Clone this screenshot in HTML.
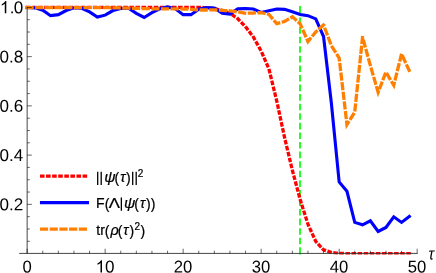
<!DOCTYPE html>
<html><head><meta charset="utf-8"><style>
html,body{margin:0;padding:0;background:#fff;}
svg{display:block;will-change:transform;}
text{font-family:"Liberation Sans",sans-serif;fill:#000;}
.tl text{font-size:17.1px;text-rendering:geometricPrecision;}
.lg text{font-size:14px;stroke:#000;stroke-width:0.22px;}
</style></head><body>
<svg width="436" height="273" viewBox="0 0 436 273">
<defs><clipPath id="cp"><rect x="0" y="0" width="436" height="254.6"/></clipPath></defs>
<rect width="436" height="273" fill="#fff"/>
<g stroke="#00ff00" stroke-width="1.7" fill="none"><line x1="300" y1="6.0" x2="300" y2="254.6" stroke-dasharray="6.6 2.973" stroke-dashoffset="7.61"/><line x1="300" y1="6.0" x2="300" y2="8.2"/><line x1="300" y1="253.6" x2="300" y2="254.6"/></g>
<g fill="none" stroke-width="3.1" stroke-linejoin="miter" stroke-linecap="square">
<path clip-path="url(#cp)" d="M27.55,7.30 L34.95,7.30 L42.75,7.30 L50.55,7.30 L58.35,7.30 L66.15,7.30 L73.95,7.30 L81.75,7.30 L89.55,7.30 L97.35,7.30 L105.15,7.30 L112.95,7.30 L120.75,7.30 L128.55,7.30 L136.35,7.30 L144.15,7.30 L151.95,7.30 L159.75,7.30 L167.55,7.30 L175.35,7.30 L183.15,7.30 L190.95,7.30 L198.75,7.30 L206.55,7.70 L214.35,8.60 L222.15,10.30 L229.95,13.30 L237.75,18.70 L245.55,26.80 L253.35,37.00 L261.15,51.00 L268.95,69.00 L276.75,101.00 L284.55,137.40 L292.35,170.20 L300.15,199.50 L307.95,224.20 L315.75,241.40 L323.55,249.80 L331.35,252.50 L339.15,253.40 L346.95,253.60 L354.75,253.60 L362.55,253.60 L370.35,253.60 L378.15,253.60 L385.95,253.60 L393.75,253.60 L401.55,253.60 L409.35,253.60" stroke="#ff0000" stroke-width="3.3" stroke-dasharray="1.3 4.786"/>
<path d="M27.15,7.45 L34.95,7.85 L42.75,10.15 L50.55,15.65 L58.35,14.65 L66.15,10.55 L73.95,7.85 L81.75,8.25 L89.55,11.95 L97.35,17.05 L105.15,15.15 L112.95,10.55 L120.75,8.45 L128.55,8.25 L136.35,13.35 L144.15,17.45 L151.95,12.65 L159.75,8.75 L167.55,6.95 L175.35,8.85 L183.15,14.65 L190.95,14.65 L198.75,9.15 L206.55,7.55 L214.35,8.05 L222.15,13.35 L229.95,14.05 L237.75,8.85 L245.55,8.55 L253.35,9.05 L261.15,12.45 L268.95,10.65 L276.75,9.05 L284.55,9.35 L292.35,11.75 L300.15,14.55 L307.95,15.65 L315.75,18.85 L323.55,36.50 L331.35,103.00 L339.15,181.90 L346.95,191.30 L354.75,222.40 L362.55,224.80 L370.35,220.80 L378.15,231.50 L385.95,227.50 L393.75,216.80 L401.55,222.40 L409.35,216.40" stroke="#0000ff"/>
<path d="M27.15,7.60 L34.95,7.60 L42.75,7.60 L50.55,7.60 L58.35,7.60 L66.15,7.60 L73.95,7.60 L81.75,7.60 L89.55,7.60 L97.35,7.60 L105.15,7.60 L112.95,7.80 L120.75,8.00 L128.55,8.20 L136.35,8.40 L144.15,8.60 L151.95,8.80 L159.75,8.90 L167.55,8.90 L175.35,8.80 L183.15,9.00 L190.95,9.30 L198.75,10.00 L206.55,10.00 L214.35,9.90 L222.15,10.40 L229.95,10.90 L237.75,11.90 L245.55,13.20 L253.35,13.00 L261.15,12.60 L268.95,14.40 L276.75,23.70 L284.55,21.40 L292.35,16.80 L300.15,23.70 L307.95,41.50 L315.75,32.00 L323.55,24.90 L331.35,45.60 L339.15,58.00 L346.95,124.60 L354.75,112.00 L362.55,37.10 L370.35,65.50 L378.15,92.30 L385.95,72.10 L393.75,85.30 L401.55,54.00 L409.35,70.80" stroke="#ff8000" stroke-width="3.3" stroke-dasharray="4.9 4.775"/>
<line x1="41.6" y1="176.2" x2="87.45" y2="176.2" stroke="#ff0000" stroke-width="3.3" stroke-dasharray="1.3 4.786"/>
<line x1="41.5" y1="202.6" x2="87.45" y2="202.6" stroke="#0000ff"/>
<line x1="41.6" y1="229.1" x2="87.45" y2="229.1" stroke="#ff8000" stroke-width="3.3" stroke-dasharray="4.85 4.87"/>
</g>
<g stroke="#333" stroke-width="0.9" fill="none">
<line x1="19.2" y1="253.42" x2="417.7" y2="253.42"/>
<line x1="27.15" y1="6.9" x2="27.15" y2="253.42"/>
</g>
<g stroke="#000" stroke-width="0.6" fill="none"><line x1="27.15" y1="253.42" x2="27.15" y2="248.72"/><line x1="42.75" y1="253.42" x2="42.75" y2="250.72"/><line x1="58.35" y1="253.42" x2="58.35" y2="250.72"/><line x1="73.95" y1="253.42" x2="73.95" y2="250.72"/><line x1="89.55" y1="253.42" x2="89.55" y2="250.72"/><line x1="105.15" y1="253.42" x2="105.15" y2="248.72"/><line x1="120.75" y1="253.42" x2="120.75" y2="250.72"/><line x1="136.35" y1="253.42" x2="136.35" y2="250.72"/><line x1="151.95" y1="253.42" x2="151.95" y2="250.72"/><line x1="167.55" y1="253.42" x2="167.55" y2="250.72"/><line x1="183.15" y1="253.42" x2="183.15" y2="248.72"/><line x1="198.75" y1="253.42" x2="198.75" y2="250.72"/><line x1="214.35" y1="253.42" x2="214.35" y2="250.72"/><line x1="229.95" y1="253.42" x2="229.95" y2="250.72"/><line x1="245.55" y1="253.42" x2="245.55" y2="250.72"/><line x1="261.15" y1="253.42" x2="261.15" y2="248.72"/><line x1="276.75" y1="253.42" x2="276.75" y2="250.72"/><line x1="292.35" y1="253.42" x2="292.35" y2="250.72"/><line x1="307.95" y1="253.42" x2="307.95" y2="250.72"/><line x1="323.55" y1="253.42" x2="323.55" y2="250.72"/><line x1="339.15" y1="253.42" x2="339.15" y2="248.72"/><line x1="354.75" y1="253.42" x2="354.75" y2="250.72"/><line x1="370.35" y1="253.42" x2="370.35" y2="250.72"/><line x1="385.95" y1="253.42" x2="385.95" y2="250.72"/><line x1="401.55" y1="253.42" x2="401.55" y2="250.72"/><line x1="417.15" y1="253.42" x2="417.15" y2="248.72"/><line x1="27.15" y1="241.29" x2="29.849999999999998" y2="241.29"/><line x1="27.15" y1="228.98" x2="29.849999999999998" y2="228.98"/><line x1="27.15" y1="216.67" x2="29.849999999999998" y2="216.67"/><line x1="27.15" y1="204.36" x2="31.849999999999998" y2="204.36"/><line x1="27.15" y1="192.05" x2="29.849999999999998" y2="192.05"/><line x1="27.15" y1="179.74" x2="29.849999999999998" y2="179.74"/><line x1="27.15" y1="167.43" x2="29.849999999999998" y2="167.43"/><line x1="27.15" y1="155.12" x2="31.849999999999998" y2="155.12"/><line x1="27.15" y1="142.81" x2="29.849999999999998" y2="142.81"/><line x1="27.15" y1="130.50" x2="29.849999999999998" y2="130.50"/><line x1="27.15" y1="118.19" x2="29.849999999999998" y2="118.19"/><line x1="27.15" y1="105.88" x2="31.849999999999998" y2="105.88"/><line x1="27.15" y1="93.57" x2="29.849999999999998" y2="93.57"/><line x1="27.15" y1="81.26" x2="29.849999999999998" y2="81.26"/><line x1="27.15" y1="68.95" x2="29.849999999999998" y2="68.95"/><line x1="27.15" y1="56.64" x2="31.849999999999998" y2="56.64"/><line x1="27.15" y1="44.33" x2="29.849999999999998" y2="44.33"/><line x1="27.15" y1="32.02" x2="29.849999999999998" y2="32.02"/><line x1="27.15" y1="19.71" x2="29.849999999999998" y2="19.71"/><line x1="27.15" y1="7.40" x2="31.849999999999998" y2="7.40"/></g>
<g class="tl"><text transform="translate(27.05,272.55) rotate(0.05) scale(0.975,1)" text-anchor="middle">0</text><path d="M1085 0H905V1147Q840 1085 734.5 1023Q629 961 545 930V1104Q696 1175 809 1276Q922 1377 969 1472H1085Z" transform="translate(92.94,272.55) scale(0.008350,-0.008350)" fill="#000"/><text transform="translate(105.05,272.55) rotate(0.05)">0</text><text transform="translate(183.05,272.55) rotate(0.05) scale(0.975,1)" text-anchor="middle">20</text><text transform="translate(261.05,272.55) rotate(0.05) scale(0.975,1)" text-anchor="middle">30</text><text transform="translate(339.05,272.55) rotate(0.05) scale(0.975,1)" text-anchor="middle">40</text><text transform="translate(417.05,272.55) rotate(0.05) scale(0.975,1)" text-anchor="middle">50</text><text transform="translate(23.2,210.31) rotate(0.05)" text-anchor="end">0.2</text><text transform="translate(23.2,161.07) rotate(0.05)" text-anchor="end">0.4</text><text transform="translate(23.2,111.83) rotate(0.05)" text-anchor="end">0.6</text><text transform="translate(23.2,62.59) rotate(0.05)" text-anchor="end">0.8</text><path d="M1085 0H905V1147Q840 1085 734.5 1023Q629 961 545 930V1104Q696 1175 809 1276Q922 1377 969 1472H1085Z" transform="translate(-2.77,13.35) scale(0.008350,-0.008350)" fill="#000"/><text transform="translate(9.64,13.35) rotate(0.05)">.</text><text transform="translate(13.69,13.35) rotate(0.05)">0</text><text transform="translate(428.4,259.5) rotate(0.05) scale(0.88,1)" font-style="italic">τ</text></g>
<g class="lg"><line x1="97.7" x2="97.7" y1="171.70" y2="184.95" stroke="#000" stroke-width="1.3"/><line x1="101.2" x2="101.2" y1="171.70" y2="184.95" stroke="#000" stroke-width="1.3"/><text transform="translate(104.13,182.4) scale(1.115,1.0)" style="font-size:14px" font-style="italic">ψ</text><text transform="translate(114.39,182.70000000000002) scale(1.000,1.0)" style="font-size:14px">(</text><text transform="translate(120.27,182.4) scale(1.000,1.0)" style="font-size:14px" font-style="italic">τ</text><text transform="translate(126.12,182.70000000000002) scale(1.000,1.0)" style="font-size:14px">)</text><line x1="132.7" x2="132.7" y1="171.70" y2="184.95" stroke="#000" stroke-width="1.3"/><line x1="136.2" x2="136.2" y1="171.70" y2="184.95" stroke="#000" stroke-width="1.3"/><text transform="translate(137.65,176.8) scale(1.000,1.0)" style="font-size:10px">2</text><text transform="translate(95.95,208.3) scale(1.000,1.0)" style="font-size:14px">F</text><text transform="translate(104.79,208.60000000000002) scale(1.000,1.0)" style="font-size:14px">(</text><text transform="translate(108.81,208.3) scale(1.199,1.0)" style="font-size:14px">Λ</text><line x1="121.35" x2="121.35" y1="197.60" y2="210.85" stroke="#000" stroke-width="1.3"/><text transform="translate(124.03,208.3) scale(1.115,1.0)" style="font-size:14px" font-style="italic">ψ</text><text transform="translate(134.14,208.60000000000002) scale(1.000,1.0)" style="font-size:14px">(</text><text transform="translate(139.97,208.3) scale(1.000,1.0)" style="font-size:14px" font-style="italic">τ</text><text transform="translate(146.02,208.60000000000002) scale(1.000,1.0)" style="font-size:14px">)</text><text transform="translate(150.82,208.60000000000002) scale(1.000,1.0)" style="font-size:14px">)</text><text transform="translate(96.23,235.3) scale(1.000,1.0)" style="font-size:14px">t</text><text transform="translate(100.27,235.3) scale(1.000,1.0)" style="font-size:14px">r</text><text transform="translate(104.79,235.8) scale(1.000,1.0)" style="font-size:14px">(</text><text transform="translate(110.47,235.3) scale(1.027,1.0)" style="font-size:14px" font-style="italic">ρ</text><text transform="translate(117.64,235.8) scale(1.000,1.0)" style="font-size:14px">(</text><text transform="translate(123.27,235.3) scale(1.000,1.0)" style="font-size:14px" font-style="italic">τ</text><text transform="translate(129.43,235.8) scale(1.000,1.0)" style="font-size:14px">)</text><text transform="translate(134.50,229.8) scale(1.000,1.0)" style="font-size:10px">2</text><text transform="translate(140.43,235.8) scale(1.000,1.0)" style="font-size:14px">)</text></g>
</svg>
</body></html>
